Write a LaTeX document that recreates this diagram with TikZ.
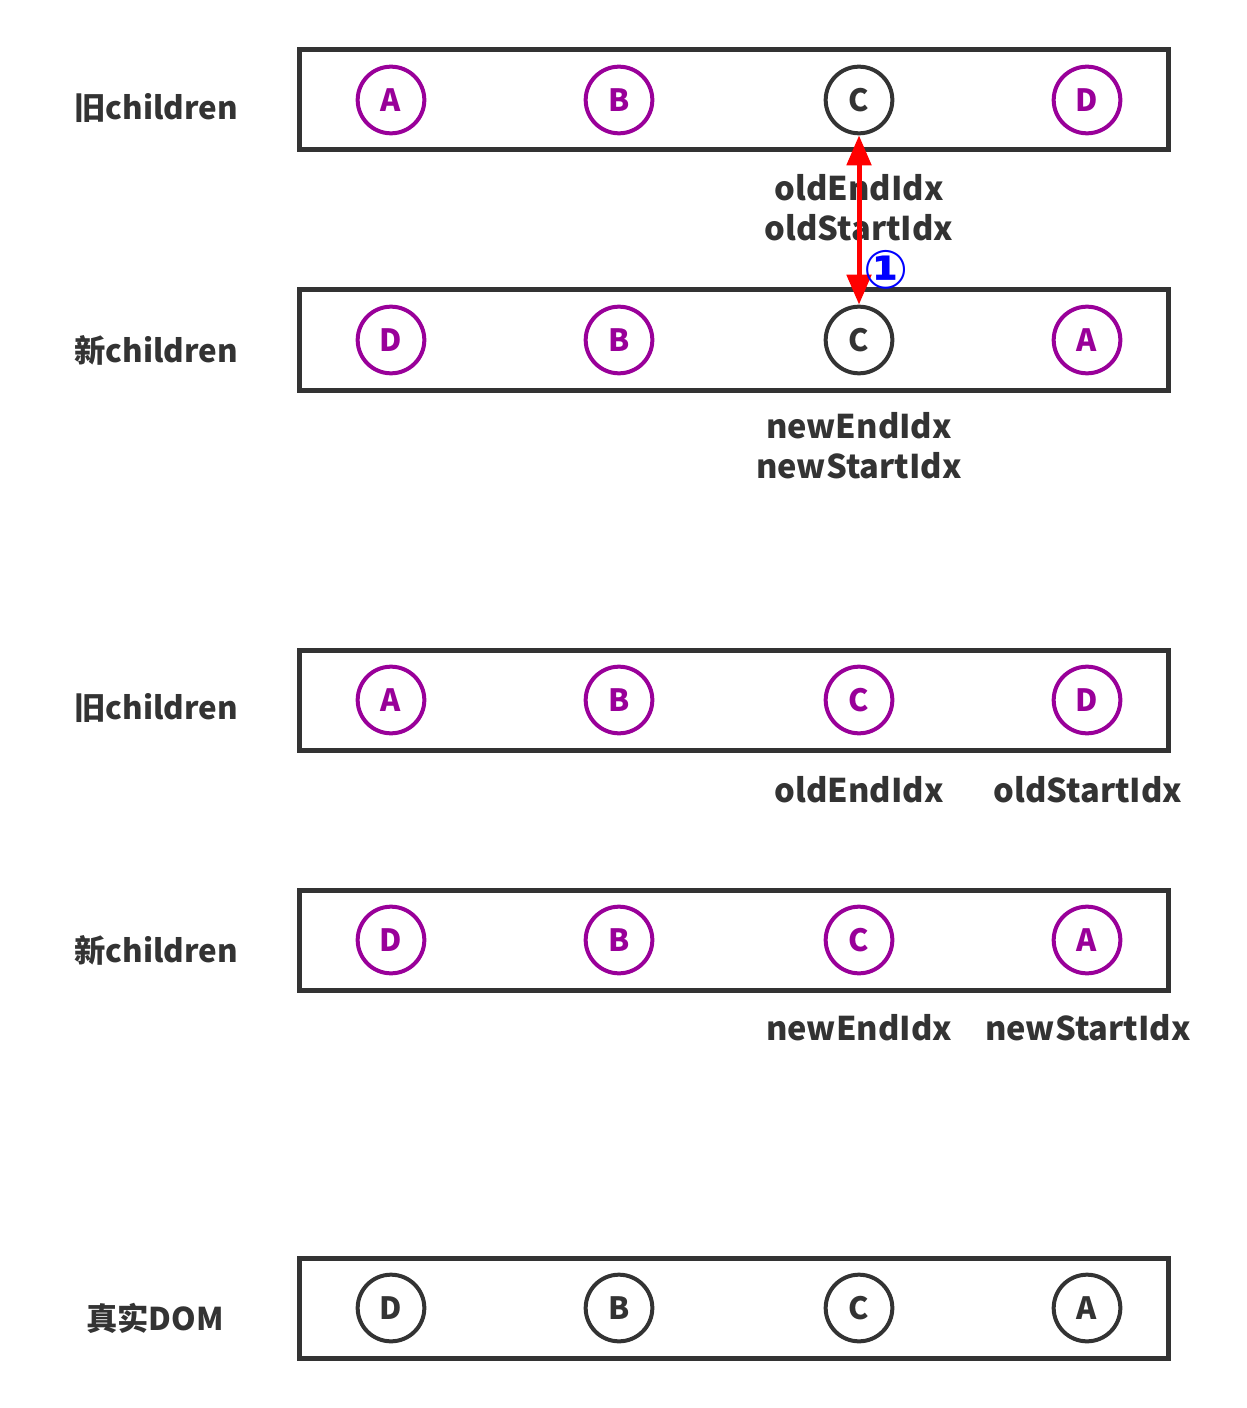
\documentclass[tikz,border=0pt]{standalone}
\usepackage{fontspec}
\setmainfont{Noto Sans CJK SC}
\newfontfamily\symfont{DejaVu Sans}
\usepackage{xcolor}
\usetikzlibrary{arrows.meta}
\definecolor{darkline}{HTML}{333333}
\definecolor{vnode}{HTML}{990099}

\tikzset{
  listbox/.style={draw=darkline, line width=3.75pt},
  elem/.style={circle, draw=vnode, text=vnode, line width=3pt, minimum size=50pt, inner sep=0pt, font=\fontsize{23}{23}\selectfont\bfseries},
  domelem/.style={elem, draw=darkline, text=darkline},
  rowlabel/.style={text=darkline, font=\fontsize{23.5}{24}\selectfont\bfseries},
  idxlabel/.style={text=darkline, font=\fontsize{24.5}{30}\selectfont\bfseries, align=center},
  patch/.style={red, line width=3.75pt, {Triangle[length=22.5pt,width=18pt]}-{Triangle[length=22.5pt,width=18pt]}}
}

\begin{document}
\begin{tikzpicture}[x=0.75pt, y=-0.75pt]
\useasboundingbox (0,0) rectangle (1246,1408);
% first step
\draw[listbox] (299,50) rectangle (1168,150);
\draw[listbox] (299,290) rectangle (1168,390);
\node[rowlabel] (old1) at (156,108) {旧children};
\node[rowlabel] (new1) at (156,350) {新children};
\node[elem] (o1a) at (391,100) {A};
\node[elem] (o1b) at (619,100) {B};
\node[domelem] (o1c) at (859,100) {C};
\node[elem] (o1d) at (1087,100) {D};
\node[elem] (n1d) at (391,340) {D};
\node[elem] (n1b) at (619,340) {B};
\node[domelem] (n1c) at (859,340) {C};
\node[elem] (n1a) at (1087,340) {A};
\node[idxlabel] (oidx1) at (859,208) {oldEndIdx\\oldStartIdx};
\node[idxlabel] (nidx1) at (859,446) {newEndIdx\\newStartIdx};
\draw[patch] (o1c) -- (n1c);
\node[text=blue, font=\symfont\fontsize{40}{40}\selectfont\bfseries] (step1) at (886,270) {①};
% second step
\draw[listbox] (299,650) rectangle (1168,750);
\draw[listbox] (299,890) rectangle (1168,990);
\node[rowlabel] (old2) at (156,708) {旧children};
\node[rowlabel] (new2) at (156,950) {新children};
\node[elem] (o2a) at (391,700) {A};
\node[elem] (o2b) at (619,700) {B};
\node[elem] (o2c) at (859,700) {C};
\node[elem] (o2d) at (1087,700) {D};
\node[elem] (n2d) at (391,940) {D};
\node[elem] (n2b) at (619,940) {B};
\node[elem] (n2c) at (859,940) {C};
\node[elem] (n2a) at (1087,940) {A};
\node[idxlabel] (oend2) at (859,790) {oldEndIdx};
\node[idxlabel] (ostart2) at (1088,790) {oldStartIdx};
\node[idxlabel] (nend2) at (859,1028) {newEndIdx};
\node[idxlabel] (nstart2) at (1088,1028) {newStartIdx};
% real dom
\draw[listbox] (299,1258) rectangle (1168,1358);
\node[rowlabel] (dom) at (155,1318) {真实DOM};
\node[domelem] (dd) at (391,1308) {D};
\node[domelem] (db) at (619,1308) {B};
\node[domelem] (dc) at (859,1308) {C};
\node[domelem] (da) at (1087,1308) {A};
\end{tikzpicture}
\end{document}
